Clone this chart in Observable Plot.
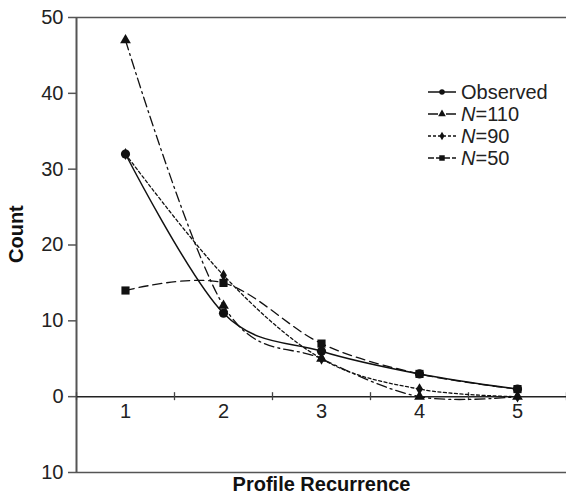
<!DOCTYPE html>
<html>
<head>
<meta charset="utf-8">
<script src="https://cdn.jsdelivr.net/npm/d3@7"></script>
<script src="https://cdn.jsdelivr.net/npm/@observablehq/plot@0.6"></script>
<style>
  html, body { margin: 0; padding: 0; background: white; }
  #chart { width: 566px; height: 500px; }
</style>
</head>
<body>
<div id="chart"></div>
<script>
const categories = [1, 2, 3, 4, 5];
const seriesNames = ["Observed", "N=110", "N=90", "N=50"];
const observed = [32, 11, 6, 3, 1];
const n110 = [47, 12, 5, 0, 0];
const n90 = [32, 16, 5, 1, 0];
const n50 = [14, 15, 7, 3, 1];
const yTicks = [-10, 0, 10, 20, 30, 40, 50];
const xTickMarks = [0.5, 1.5, 2.5, 3.5, 4.5, 5.5];

const seriesValues = [observed, n110, n90, n50];
const styles = [
  {symbol: "circle", dash: null, legendDash: null, r: 4.6, width: 1.5, legendSym: d3.symbolCircle, legendSize: 24},
  {symbol: "triangle", dash: "10,4,2,4", legendDash: "10,3,2,3", r: 4.0, width: 1.3, legendSym: d3.symbolTriangle, legendSize: 26},
  {symbol: "diamond", dash: "3,2.5", legendDash: "3,2", r: 3.6, width: 1.3, legendSym: d3.symbolDiamond, legendSize: 22},
  {symbol: "square", dash: "9,5", legendDash: "6,2", r: 4.6, width: 1.3, legendSym: d3.symbolSquare, legendSize: 30}
];

const data = seriesNames.map((name, i) =>
  categories.map((c, j) => ({series: name, x: c, y: seriesValues[i][j]}))
);

const lineMarks = data.flatMap((d, i) => [
  Plot.line(d, {x: "x", y: "y", stroke: "#111", strokeWidth: styles[i].width,
    strokeDasharray: styles[i].dash, curve: "cardinal", tension: 0}),
  Plot.dot(d, {x: "x", y: "y", symbol: () => styles[i].symbol, r: styles[i].r, fill: "#111", stroke: "none"})
]);

const chart = Plot.plot({
  width: 566,
  height: 500,
  marginLeft: 76,
  marginRight: 0,
  marginTop: 17,
  marginBottom: 28,
  x: {domain: [0.5, 5.5], axis: null},
  y: {domain: [-10, 50]},
  symbol: {domain: ["circle", "triangle", "diamond", "square"], range: ["circle", "triangle", "diamond", "square"]},
  style: {fontFamily: "'Liberation Sans', Arial, sans-serif", fontSize: "20px", color: "#222", background: "white"},
  marks: [
    Plot.axisY({ticks: yTicks, tickFormat: d => String(Math.abs(d)), tickSize: 8, tickPadding: 5,
      label: null, stroke: "#555", strokeWidth: 1.5, fontSize: 20}),
    Plot.ruleX([0.5], {stroke: "#555", strokeWidth: 2}),
    Plot.ruleY([50, -10], {stroke: "#555", strokeWidth: 1.5}),
    Plot.ruleY([0], {stroke: "#222", strokeWidth: 1.5}),
    Plot.ruleX(xTickMarks, {y1: 0, y2: 0, insetTop: -4, insetBottom: -4, stroke: "#444", strokeWidth: 1.3}),
    Plot.text(categories, {x: d => d, y: 0, dy: 15, text: d => String(d), fontSize: 20, fill: "#222"}),
    ...lineMarks,
    Plot.text(["Count"], {frameAnchor: "left", dx: -60, dy: 18, rotate: -90, fontWeight: "bold", fontSize: 20, fill: "#111"}),
    Plot.text(["Profile Recurrence"], {frameAnchor: "bottom", dy: 18, fontWeight: "bold", fontSize: 20, fill: "#111"})
  ]
});

// Legend inside the plot
const svg = d3.select(chart);
const legend = svg.append("g")
  .attr("font-family", "'Liberation Sans', Arial, sans-serif")
  .attr("font-size", 20)
  .attr("text-anchor", "start");
const lx0 = 428, lx1 = 456, ltext = 461, ly0 = 92, lstep = 22;
seriesNames.forEach((name, i) => {
  const y = ly0 + i * lstep;
  const g = legend.append("g");
  g.append("line").attr("x1", lx0).attr("x2", lx1).attr("y1", y).attr("y2", y)
    .attr("stroke", "#111").attr("stroke-width", styles[i].width)
    .attr("stroke-dasharray", styles[i].legendDash);
  g.append("path").attr("transform", `translate(${(lx0 + lx1) / 2},${y})`)
    .attr("d", d3.symbol(styles[i].legendSym, styles[i].legendSize)()).attr("fill", "#111");
  const t = g.append("text").attr("x", ltext).attr("y", y).attr("dy", "0.35em")
    .attr("fill", "#222").attr("text-anchor", "start");
  if (name.startsWith("N=")) {
    t.append("tspan").attr("font-style", "italic").text("N");
    t.append("tspan").text(name.slice(1));
  } else {
    t.text(name);
  }
});

document.getElementById("chart").appendChild(chart);
</script>
</body>
</html>
